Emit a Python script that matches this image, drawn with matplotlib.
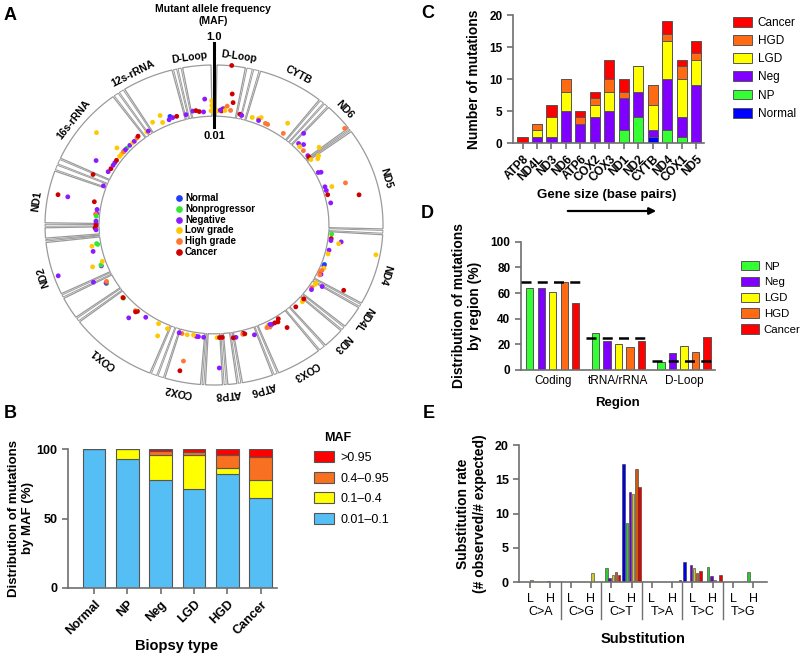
import numpy as np
import matplotlib
matplotlib.use('Agg')
import matplotlib.pyplot as plt
from matplotlib.patches import Patch, Polygon
from matplotlib.lines import Line2D
from matplotlib.transforms import blended_transform_factory

plt.rcParams['font.family'] = ['Liberation Sans', 'DejaVu Sans']

# ---------------- data ----------------
# A: mitochondrial genome map (angles in degrees clockwise from top)
gene_names = ['D-Loop', 'D-Loop', 'CYTB', 'ND6', 'ND5', 'ND4', 'ND4L', 'ND3', 'COX3', 'ATP6',
              'ATP8', '', 'COX2', 'COX1', '', 'ND2', '', 'ND1', '16s-rRNA', '12s-rRNA']
gene_start = [349, 0.7, 15.7, 42.4, 54, 93.2, 120.8, 131, 141.5, 159.4,
              171.9, 176.8, 184.3, 202, 234.5, 244.3, 265, 270.5, 294.4, 327.8]
gene_end = [359.3, 11, 38.8, 53, 91.7, 119.5, 129.5, 139, 157.8, 170.6,
            175.6, 183.2, 197.2, 233, 243, 264, 269.3, 290, 323.6, 345.9]
gene_label_at = [352, 8, 28, 47, 74, 107, 123.5, 134.5, 149, 164,
                 175.5, 0, 191.5, 218, 0, 252, 0, 278, 308.5, 333]

groups = ['Normal', 'Nonprogressor', 'Negative', 'Low grade', 'High grade', 'Cancer']
group_codes = ['N', 'NP', 'Neg', 'LGD', 'HGD', 'C']
dot_colors = ['#1f3cff', '#33e833', '#8c1aff', '#ffc800', '#ff7733', '#cc0000']

dot_pos = [356, 359, 359, 350, 351.5, 353, 358.6, 346.5, 355,
           6, 7.5, 8.4, 6, 7.8, 4.4, 4, 3.5, 2, 5.2, 3, 12.5, 13.5,
           18.6, 21.6, 22.6, 22, 25.6, 26.8, 34.4, 35.6,
           42.8, 44.5, 46.5, 46, 48.7, 52, 53, 52, 52, 55, 56, 54.5,
           62, 62.5, 71, 70, 72, 74.3, 78.7, 71.3, 77.6,
           94.7, 97, 98, 98, 99, 103, 105, 101, 110.7, 111.5, 112.5, 115, 116, 114, 116.5,
           121, 121.8, 121, 118, 124, 125,
           131.6, 131, 132.5, 131, 136.6,
           153, 152.5, 152, 151, 147, 148, 149.5, 154, 146,
           165.7, 166, 165, 160.8, 169.5, 170.8,
           176, 178.5, 177.3, 178,
           185, 187.5, 188.5, 190, 193, 195.6, 197, 192, 192.5,
           203, 208, 205.7, 215, 220, 221, 220.5, 221, 229.5, 230, 229.8,
           240, 240.5, 241, 243.4, 251, 249, 249.5, 250, 251, 257, 259.6, 260, 260.5,
           268.5, 267.5,
           281.6, 281.5, 281.6, 278, 276, 275.5, 274.5, 272, 270.8, 269.8,
           293.8, 290.5, 300, 309.7, 298, 300, 302, 303.5, 305, 310, 307.5, 309, 311, 310.5,
           313, 312, 315, 317, 318, 320, 321,
           325.7, 326.5, 330.5, 334.6, 335, 339, 338, 340, 342]
dot_maf = [.044, .037, .024, .017, .017, .015, .015, .014, .014,
           .95, .075, .035, .024, .017, .019, .018, .015, .015, .016, .016, .014, .013,
           .014, .015, .018, .013, .013, .013, .034, .013,
           .039, .015, .019, .013, .013, .013, .013, .70, .044, .027, .022, .013,
           .012, .015, .021, .012, .012, .012, .013, .07, .16,
           .012, .012, .012, .029, .024, .012, .012, .65, .012, .012, .013, .011, .013, .012, .012,
           .013, .013, .024, .14, .012, .013,
           .013, .013, .014, .013, .013,
           .013, .016, .013, .014, .012, .015, .014, .015, .035,
           .012, .013, .013, .018, .015, .015,
           .013, .013, .013, .20,
           .013, .013, .013, .012, .013, .013, .013, .14, .35,
           .013, .012, .033, .013, .013, .014, .015, .033, .013, .013, .013,
           .020, .020, .018, .05, .64, .015, .015, .031, .012, .02, .02, .012, .013,
           .013, .012,
           .40, .17, .017, .012, .012, .013, .012, .012, .012, .012,
           .04, .012, .056, .23, .014, .013, .013, .013, .013, .025, .013, .013, .013, .013,
           .013, .013, .013, .013, .013, .014, .015,
           .013, .013, .021, .014, .027, .018, .014, .015, .015]
dot_group = ['Neg', 'LGD', 'LGD', 'Neg', 'C', 'C', 'LGD', 'Neg', 'Neg',
             'C', 'C', 'C', 'HGD', 'HGD', 'HGD', 'Neg', 'C', 'LGD', 'LGD', 'Neg', 'C', 'Neg',
             'LGD', 'LGD', 'LGD', 'Neg', 'HGD', 'HGD', 'LGD', 'HGD',
             'Neg', 'Neg', 'Neg', 'LGD', 'HGD', 'Neg', 'C', 'HGD', 'LGD', 'LGD', 'LGD', 'LGD',
             'Neg', 'Neg', 'LGD', 'Neg', 'Neg', 'C', 'Neg', 'HGD', 'C',
             'NP', 'C', 'Neg', 'Neg', 'LGD', 'Neg', 'LGD', 'LGD', 'N', 'N', 'LGD', 'HGD', 'Neg', 'HGD', 'HGD',
             'LGD', 'LGD', 'Neg', 'C', 'HGD', 'Neg',
             'LGD', 'HGD', 'LGD', 'C', 'C',
             'LGD', 'HGD', 'Neg', 'Neg', 'C', 'C', 'C', 'HGD', 'C',
             'C', 'HGD', 'C', 'Neg', 'Neg', 'C',
             'C', 'LGD', 'C', 'Neg',
             'Neg', 'Neg', 'Neg', 'LGD', 'LGD', 'HGD', 'Neg', 'HGD', 'C',
             'LGD', 'LGD', 'LGD', 'Neg', 'C', 'HGD', 'C', 'Neg', 'NP', 'HGD', 'C',
             'NP', 'Neg', 'HGD', 'Neg', 'Neg', 'Neg', 'NP', 'LGD', 'LGD', 'Neg', 'LGD', 'NP', 'NP',
             'C', 'Neg',
             'C', 'Neg', 'C', 'Neg', 'Neg', 'HGD', 'NP', 'Neg', 'Neg', 'C',
             'C', 'Neg', 'Neg', 'LGD', 'Neg', 'C', 'Neg', 'Neg', 'C', 'LGD', 'LGD', 'LGD', 'Neg', 'HGD',
             'NP', 'Neg', 'Neg', 'LGD', 'Neg', 'HGD', 'C',
             'LGD', 'Neg', 'LGD', 'LGD', 'LGD', 'N', 'Neg', 'Neg', 'C']

# B: distribution by MAF (%)
biopsy = ['Normal', 'NP', 'Neg', 'LGD', 'HGD', 'Cancer']
maf_bins = ['0.01\u20130.1', '0.1\u20130.4', '0.4\u20130.95', '>0.95']
maf_low = [100, 93, 78, 71, 82, 65]
maf_mid = [0, 7, 18, 25, 4.5, 13]
maf_high = [0, 0, 2.5, 2, 9, 16]
maf_top = [0, 0, 1.5, 2, 4.5, 6]
maf_colors = ['#55bef5', '#ffff00', '#f87020', '#ff0000']

# C: number of mutations by gene
genes_c = ['ATP8', 'ND4L', 'ND3', 'ND6', 'ATP6', 'COX2', 'COX3', 'ND1', 'ND2', 'CYTB', 'ND4', 'COX1', 'ND5']
c_normal = [0, 0, 0, 0, 0, 0, 0, 0, 0, 1, 0, 0, 0]
c_np = [0, 0, 0, 0, 0, 0, 0, 2, 4, 0, 2, 1, 0]
c_neg = [0, 1, 1, 5, 3, 4, 5, 5, 4, 1, 8, 3, 9]
c_lgd = [0, 1, 3, 3, 0, 2, 3, 0, 4, 4, 6, 6, 4]
c_hgd = [0, 1, 0, 2, 1, 1, 2, 1, 0, 3, 1, 2, 1]
c_cancer = [1, 0, 2, 0, 1, 1, 3, 2, 0, 0, 2, 1, 2]
stage_names = ['Normal', 'NP', 'Neg', 'LGD', 'HGD', 'Cancer']
stage_colors = ['#0000ff', '#33ff33', '#7f00ff', '#ffff00', '#ff6a13', '#ff0000']

# D: distribution by region (%)
regions = ['Coding', 'tRNA/rRNA', 'D-Loop']
d_np = [64, 28.6, 6.5]
d_neg = [64, 22.9, 13]
d_lgd = [61, 20, 19]
d_hgd = [68.3, 18.2, 14]
d_cancer = [52, 22.9, 26]
d_expected = [68.6, 24.7, 7.2]

# E: substitution rate
subs = ['C>A', 'C>G', 'C>T', 'T>A', 'T>C', 'T>G']
strands = ['L', 'H']
e_normal = [0, 0, 0, 0, 0, 17.2, 0, 0, 3.0, 0, 0, 0]
e_np = [0, 0, 0, 0, 2.1, 8.7, 0, 0, 0, 2.2, 0, 1.45]
e_neg = [0.1, 0.25, 0, 0, 0.6, 13.2, 0, 0, 2.5, 0.9, 0.1, 0]
e_lgd = [0.3, 0, 0, 1.3, 1.0, 12.9, 0, 0, 2.1, 0.3, 0, 0]
e_hgd = [0, 0, 0, 0, 1.5, 16.5, 0, 0.1, 1.3, 0, 0, 0]
e_cancer = [0, 0, 0, 0, 1.0, 13.9, 0, 0.3, 1.7, 1.0, 0, 0]
e_colors = ['#0000e6', '#33c833', '#6a00d0', '#cccc30', '#cc5a10', '#e60000']

# ---------------- figure ----------------
W, H = 800, 656
fig = plt.figure(figsize=(W / 100, H / 100), dpi=100)


def fx(x):
    return x / W


def fy(y):
    return 1 - y / H


def add_ax(l, t, r, b):
    return fig.add_axes([l / W, 1 - b / H, (r - l) / W, (b - t) / H])


def style_axis(ax, fs=8.5):
    for s in ['top', 'right']:
        ax.spines[s].set_visible(False)
    for s in ['left', 'bottom']:
        ax.spines[s].set_color('#707070')
        ax.spines[s].set_linewidth(1.2)
    ax.tick_params(direction='out', length=4, width=1.2, color='#707070', labelsize=fs)
    for lab in ax.get_yticklabels():
        lab.set_fontweight('bold')


# panel letters
for letter, (px, py) in zip('ABCDE', [(10, 15), (10, 413), (428, 13), (427, 214), (429, 414)]):
    fig.text(fx(px), fy(py), letter, fontsize=13, fontweight='bold', ha='center', va='center')

# ---------- A ----------
axA = add_ax(14, 30, 414, 420)
axA.set_xlim(-200 / 169, 200 / 169)
axA.set_ylim(-195 / 160, 195 / 160)
axA.axis('off')
R_IN, R_OUT = 0.68, 1.0


def arc_box(a0, a1, r0, r1, lw=0.9):
    t = np.radians(np.linspace(a0, a1, 40))
    xs = np.concatenate([r1 * np.sin(t), r0 * np.sin(t[::-1])])
    ys = np.concatenate([r1 * np.cos(t), r0 * np.cos(t[::-1])])
    return Polygon(np.column_stack([xs, ys]), closed=True, fc='white', ec='#9a9a9a', lw=lw)


order = np.argsort(gene_start)
for i in order:
    axA.add_patch(arc_box(gene_start[i] + 0.3, gene_end[i] - 0.3, R_IN, R_OUT))
# small tRNA slivers in the gaps
for a, b in zip(order[:-1], order[1:]):
    g0, g1 = gene_end[a], gene_start[b]
    n = max(1, int(round((g1 - g0) / 2.0)))
    edges = np.linspace(g0, g1, n + 1)
    for e0, e1 in zip(edges[:-1], edges[1:]):
        axA.add_patch(arc_box(e0 + 0.25, e1 - 0.25, R_IN, R_OUT, lw=0.7))

for name, ang in zip(gene_names, gene_label_at):
    if not name:
        continue
    t = np.radians(ang)
    axA.text(1.06 * np.sin(t), 1.06 * np.cos(t), name, rotation=-ang, rotation_mode='anchor',
             ha='center', va='center', fontsize=7.5, fontweight='bold')

pos = np.radians(np.array(dot_pos))
rr = R_IN + 0.006 + (R_OUT - R_IN) * (np.log10(np.array(dot_maf)) + 2) / 2
gcol = np.array([dot_colors[group_codes.index(g)] for g in dot_group])
axA.scatter(rr * np.sin(pos), rr * np.cos(pos), s=12, c=gcol, lw=0, zorder=3)

axA.plot([0, 0], [0.61, 1.14], color='k', lw=2.2, zorder=4)
axA.text(0, 1.175, '1.0', ha='center', va='center', fontsize=8, fontweight='bold')
axA.text(0, 0.555, '0.01', ha='center', va='center', fontsize=8, fontweight='bold')
fig.text(fx(213), fy(15), 'Mutant allele frequency\n(MAF)', ha='center', va='center',
         fontsize=7.5, fontweight='bold', linespacing=1.25)

for i, (name, c) in enumerate(zip(groups, dot_colors)):
    yy = 198 + 10.8 * i
    fig.add_artist(Line2D([fx(179)], [fy(yy)], marker='o', ms=3.8, color=c, ls='',
                          transform=fig.transFigure))
    fig.text(fx(185), fy(yy), name, fontsize=7, fontweight='bold', va='center')

# ---------- B ----------
axB = add_ax(68, 449, 277, 588)
xb = np.arange(len(biopsy))
bottom = np.zeros(len(biopsy))
for vals, c in zip([maf_low, maf_mid, maf_high, maf_top], maf_colors):
    axB.bar(xb, vals, 0.68, bottom=bottom, color=c, edgecolor='#555555', lw=0.8)
    bottom += np.array(vals)
axB.set_xlim(-0.78, 5.49)
axB.set_ylim(0, 100)
axB.set_yticks([0, 50, 100])
axB.set_xticks(xb)
axB.set_xticklabels(biopsy, rotation=45, ha='right', rotation_mode='anchor', fontweight='bold')
style_axis(axB, 9)
axB.set_ylabel('Distribution of mutations\nby MAF (%)', fontsize=9.5, fontweight='bold', labelpad=2)
fig.text(fx(177), fy(646), 'Biopsy type', ha='center', va='center', fontsize=10.5, fontweight='bold')
fig.text(fx(338), fy(438), 'MAF', ha='center', va='center', fontsize=9, fontweight='bold')
hB = [Patch(fc=c, ec='#555555', lw=0.8) for c in maf_colors][::-1]
fig.legend(hB, maf_bins[::-1], loc='upper left', bbox_to_anchor=(fx(314), fy(451)), frameon=False,
           fontsize=9, borderpad=0, borderaxespad=0, handlelength=1.6, handleheight=1.0,
           handletextpad=0.5, labelspacing=0.62)

# ---------- C ----------
axC = add_ax(513, 15, 704, 143)
xc = np.arange(len(genes_c))
bottom = np.zeros(len(genes_c))
for vals, c in zip([c_normal, c_np, c_neg, c_lgd, c_hgd, c_cancer], stage_colors):
    axC.bar(xc, vals, 0.7, bottom=bottom, color=c, edgecolor='#555555', lw=0.7)
    bottom += np.array(vals)
axC.set_xlim(-0.66, 12.55)
axC.set_ylim(0, 20)
axC.set_yticks([0, 5, 10, 15, 20])
axC.set_xticks(xc)
axC.set_xticklabels(genes_c, rotation=45, ha='right', rotation_mode='anchor', fontweight='bold', fontsize=8)
style_axis(axC, 8.5)
axC.set_ylabel('Number of mutations', fontsize=10, fontweight='bold', labelpad=6)
fig.text(fx(607), fy(195), 'Gene size (base pairs)', ha='center', va='center', fontsize=9.5,
         fontweight='bold')
axC.annotate('', xy=(659, H - 211), xytext=(565, H - 211), xycoords='figure pixels',
             textcoords='figure pixels',
             arrowprops=dict(arrowstyle='-|>', lw=1.6, color='k', mutation_scale=10))
hC = [Patch(fc=c, ec='#555555', lw=0.7) for c in stage_colors][::-1]
fig.legend(hC, stage_names[::-1], loc='upper left', bbox_to_anchor=(fx(733), fy(17)), frameon=False,
           fontsize=8.5, borderpad=0, borderaxespad=0, handlelength=1.6, handleheight=0.9,
           handletextpad=0.5, labelspacing=0.52)

# ---------- D ----------
axD = add_ax(520.7, 241.7, 715, 370)
xd = np.arange(len(regions))
for j, (vals, c) in enumerate(zip([d_np, d_neg, d_lgd, d_hgd, d_cancer], stage_colors[1:])):
    axD.bar(xd + (j - 2) * 0.175, vals, 0.112, color=c, edgecolor='#555555', lw=0.7)
for i, v in enumerate(d_expected):
    axD.hlines(v, i - 0.49, i + 0.49, colors='k', linestyles=(0, (4, 2.5)), lw=1.8, clip_on=False, zorder=4)
axD.set_xlim(-0.487, 2.47)
axD.set_ylim(0, 100)
axD.set_yticks(np.arange(0, 101, 20))
axD.set_xticks(xd)
axD.set_xticklabels(regions, fontsize=8.5)
style_axis(axD, 8.5)
axD.tick_params(axis='x', length=0)
axD.set_ylabel('Distribution of mutations\nby region (%)', fontsize=10, fontweight='bold', labelpad=6)
fig.text(fx(617), fy(403), 'Region', ha='center', va='center', fontsize=9.5, fontweight='bold')
hD = [Patch(fc=c, ec='#555555', lw=0.7) for c in stage_colors[1:]]
fig.legend(hD, stage_names[1:], loc='upper left', bbox_to_anchor=(fx(741), fy(261)), frameon=False,
           fontsize=8.2, borderpad=0, borderaxespad=0, handlelength=1.6, handleheight=0.9,
           handletextpad=0.4, labelspacing=0.45)

# ---------- E ----------
axE = add_ax(519.3, 445, 767, 582.3)
xe = np.arange(len(subs) * len(strands))
for j, (vals, c) in enumerate(zip([e_normal, e_np, e_neg, e_lgd, e_hgd, e_cancer], e_colors)):
    axE.bar(xe + (j - 2.5) * 0.153, vals, 0.13, color=c, edgecolor='#333333', lw=0.4)
axE.set_xlim(-0.53, 11.67)
axE.set_ylim(0, 20)
axE.set_yticks([0, 5, 10, 15, 20])
axE.set_xticks(xe)
axE.set_xticklabels(strands * len(subs), fontsize=9)
style_axis(axE, 9)
trE = blended_transform_factory(axE.transData, axE.transAxes)
for t, name in enumerate(subs):
    axE.text(2 * t + 0.5, -0.215, name, transform=trE, ha='center', va='center', fontsize=9)
for t in range(1, len(subs)):
    axE.plot([2 * t - 0.5] * 2, [0, -0.265], transform=trE, color='#707070', lw=1, clip_on=False)
axE.set_ylabel('Substitution rate\n(# observed/# expected)', fontsize=10, fontweight='bold', labelpad=6)
fig.text(fx(643), fy(639), 'Substitution', ha='center', va='center', fontsize=10.5, fontweight='bold')

fig.savefig('out.png', dpi=100)
